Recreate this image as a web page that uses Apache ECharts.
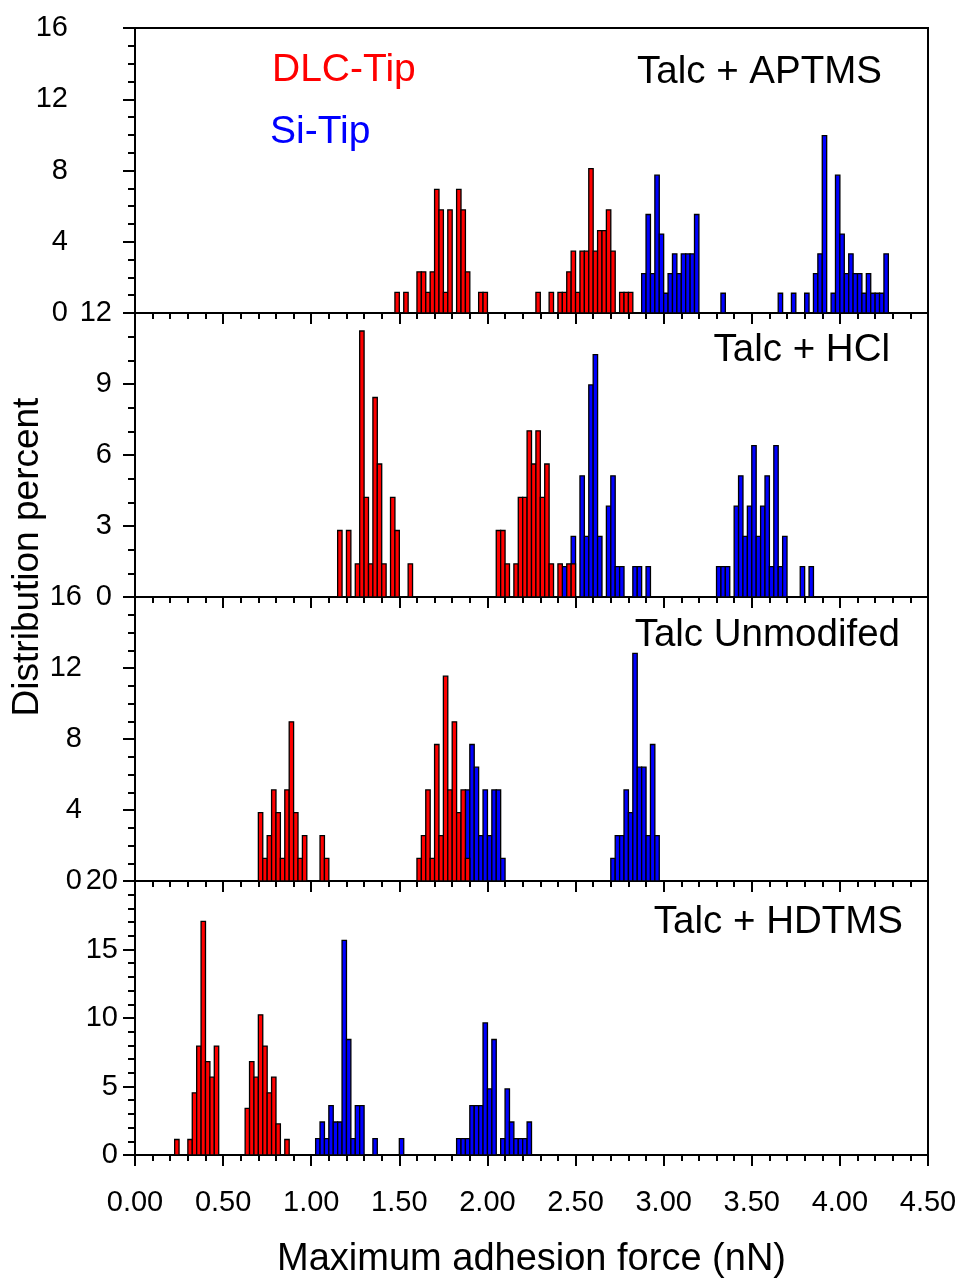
<!DOCTYPE html>
<html>
<head>
<meta charset="utf-8">
<script src="https://cdn.jsdelivr.net/npm/echarts@6/dist/echarts.min.js"></script>
<style>
html,body{margin:0;padding:0;background:#fff;}
#chart{width:963px;height:1280px;}
</style>
</head>
<body>
<div id="chart"></div>
<script>
// Histogram bin width (nN)
const BIN = 0.025;

// x-axis tick labels
const xTicks = ['0.00','0.50','1.00','1.50','2.00','2.50','3.00','3.50','4.00','4.50'];

// Panel titles
const panelNames = ['Talc + APTMS', 'Talc + HCl', 'Talc Unmodifed', 'Talc + HDTMS'];
const yMax = [16, 12, 16, 20];
const yStep = [4, 3, 4, 5];

// [bin start (nN), distribution percent]
const aptmsDLC = [[1.475,1.16],[1.525,1.16],[1.600,2.31],[1.625,2.31],[1.650,1.16],[1.675,2.31],[1.700,6.94],[1.725,5.79],[1.750,1.16],[1.775,5.79],[1.825,6.94],[1.850,5.79],[1.875,2.31],[1.950,1.16],[1.975,1.16],
  [2.275,1.16],[2.350,1.16],[2.400,1.16],[2.425,1.16],[2.450,2.31],[2.475,3.47],[2.500,1.16],[2.525,3.47],[2.550,3.47],[2.575,8.10],[2.600,3.47],[2.625,4.63],[2.650,4.63],[2.675,5.79],[2.700,3.47],[2.750,1.16],[2.775,1.16],[2.800,1.16]];
const aptmsSi = [[2.875,2.21],[2.900,5.53],[2.925,2.21],[2.950,7.74],[2.975,4.43],[3.000,1.11],[3.025,2.21],[3.050,3.32],[3.075,2.21],[3.100,3.32],[3.125,3.32],[3.150,3.32],[3.175,5.53],[3.325,1.11],
  [3.650,1.11],[3.725,1.11],[3.800,1.11],[3.850,2.21],[3.875,3.32],[3.900,9.96],[3.950,1.11],[3.975,7.74],[4.000,4.43],[4.025,2.21],[4.050,3.32],[4.075,2.21],[4.100,2.21],[4.125,1.11],[4.150,2.21],[4.175,1.11],[4.200,1.11],[4.225,1.11],[4.250,3.32]];

const hclDLC = [[1.150,2.81],[1.200,2.81],[1.250,1.40],[1.275,11.24],[1.300,4.21],[1.325,1.40],[1.350,8.43],[1.375,5.62],[1.400,1.40],[1.450,4.21],[1.475,2.81],[1.550,1.40],
  [2.050,2.81],[2.075,2.81],[2.100,1.40],[2.150,1.40],[2.175,4.21],[2.200,4.21],[2.225,7.02],[2.250,5.62],[2.275,7.02],[2.300,4.21],[2.325,5.62],[2.350,1.40],[2.400,1.40],[2.450,1.40],[2.475,1.40]];
const hclSi = [[2.425,1.28],[2.475,2.56],[2.525,5.12],[2.550,2.56],[2.575,8.96],[2.600,10.24],[2.625,2.56],[2.675,3.84],[2.700,5.12],[2.725,1.28],[2.750,1.28],[2.825,1.28],[2.850,1.28],[2.900,1.28],
  [3.300,1.28],[3.325,1.28],[3.350,1.28],[3.400,3.84],[3.425,5.12],[3.450,2.56],[3.475,3.84],[3.500,6.40],[3.525,2.56],[3.550,3.84],[3.575,5.12],[3.600,1.28],[3.625,6.40],[3.650,1.28],[3.675,2.56],[3.775,1.28],[3.825,1.28]];

const unmodDLC = [[0.700,3.85],[0.725,1.28],[0.750,2.56],[0.775,5.13],[0.800,3.85],[0.825,1.28],[0.850,5.13],[0.875,8.97],[0.900,3.85],[0.925,1.28],[0.950,2.56],[1.050,2.56],[1.075,1.28],
  [1.600,1.28],[1.625,2.56],[1.650,5.13],[1.675,1.28],[1.700,7.69],[1.725,2.56],[1.750,11.54],[1.775,5.13],[1.800,8.97],[1.825,3.85],[1.850,5.13],[1.875,1.28]];
const unmodSi = [[1.875,5.13],[1.900,7.69],[1.925,6.41],[1.950,2.56],[1.975,5.13],[2.000,2.56],[2.025,5.13],[2.050,5.13],[2.075,1.28],
  [2.700,1.28],[2.725,2.56],[2.750,2.56],[2.775,5.13],[2.800,3.85],[2.825,12.82],[2.850,6.41],[2.875,6.41],[2.900,2.56],[2.925,7.69],[2.950,2.56]];

const hdtmsDLC = [[0.225,1.13],[0.300,1.13],[0.325,4.54],[0.350,7.95],[0.375,17.05],[0.400,6.82],[0.425,5.68],[0.450,7.95],
  [0.625,3.41],[0.650,6.82],[0.675,5.68],[0.700,10.23],[0.725,7.95],[0.750,4.54],[0.775,5.68],[0.800,2.27],[0.850,1.13]];
const hdtmsSi = [[1.025,1.20],[1.050,2.41],[1.075,1.20],[1.100,3.61],[1.125,2.41],[1.150,2.41],[1.175,15.66],[1.200,8.43],[1.225,1.20],[1.250,3.61],[1.275,3.61],[1.350,1.20],[1.500,1.20],
  [1.825,1.20],[1.850,1.20],[1.875,1.20],[1.900,3.61],[1.925,3.61],[1.950,3.61],[1.975,9.64],[2.000,4.82],[2.025,8.43],[2.075,1.20],[2.100,4.82],[2.125,2.41],[2.150,1.20],[2.175,1.20],[2.200,1.20],[2.225,2.41]];

const dlcSets = [aptmsDLC, hclDLC, unmodDLC, hdtmsDLC];
const siSets = [aptmsSi, hclSi, unmodSi, hdtmsSi];

const FONT = '"Liberation Sans", Arial, Helvetica, sans-serif';
const chart = echarts.init(document.getElementById('chart'), null, {renderer: 'canvas'});

const gridTops = [28, 313, 597, 881];
const gridH = [285, 284, 284, 284];
const labelMargins = [67, 23, 53, 17];

function makeRender(color) {
  return function (params, api) {
    const x0 = api.value(0), v = api.value(1);
    const p0 = api.coord([x0, 0]);
    const p1 = api.coord([x0 + BIN, v]);
    return {
      type: 'rect',
      shape: {x: p0[0], y: p1[1], width: p1[0] - p0[0], height: p0[1] - p1[1]},
      style: {fill: color, stroke: '#000', lineWidth: 1.3}
    };
  };
}

const grids = [], xAxes = [], yAxes = [], series = [];
for (let i = 0; i < 4; i++) {
  grids.push({left: 135, right: 35, top: gridTops[i], height: gridH[i], show: true, borderColor: '#000', borderWidth: 2, backgroundColor: 'transparent'});
  xAxes.push({
    type: 'value', gridIndex: i, min: 0, max: 4.5, interval: 0.5,
    axisLine: {show: true, onZero: false, lineStyle: {color: '#000', width: 2}},
    axisTick: {show: true, inside: false, length: 11, lineStyle: {color: '#000', width: 2}},
    minorTick: {show: true, splitNumber: 5, length: 6, lineStyle: {color: '#000', width: 2}},
    splitLine: {show: false},
    axisLabel: {show: i === 3, margin: 33, color: '#000', fontSize: 29, fontFamily: FONT,
      formatter: function (v) { return xTicks[Math.round(v / 0.5)]; }},
    name: i === 3 ? 'Maximum adhesion force (nN)' : '',
    nameLocation: 'middle', nameGap: 86,
    nameTextStyle: {color: '#000', fontSize: 38, fontFamily: FONT}
  });
  yAxes.push({
    type: 'value', gridIndex: i, min: 0, max: yMax[i], interval: yStep[i],
    axisLine: {show: true, lineStyle: {color: '#000', width: 2}},
    axisTick: {show: true, inside: false, length: 12, lineStyle: {color: '#000', width: 2}},
    minorTick: {show: true, splitNumber: yStep[i], length: 7, lineStyle: {color: '#000', width: 2}},
    splitLine: {show: false},
    axisLabel: {show: true, margin: labelMargins[i], color: '#000', fontSize: 29, fontFamily: FONT}
  });
  series.push({type: 'custom', xAxisIndex: i, yAxisIndex: i, renderItem: makeRender('#0000FF'), data: siSets[i], encode: {x: 0, y: 1}, z: 2});
  series.push({type: 'custom', xAxisIndex: i, yAxisIndex: i, renderItem: makeRender('#FF0000'), data: dlcSets[i], encode: {x: 0, y: 1}, z: 3});
}

const rightEdges = [882, 890, 900, 903];
const titleY = [72, 350, 635, 922];
const graphics = [];
for (let i = 0; i < 4; i++) {
  graphics.push({type: 'text', x: rightEdges[i], y: titleY[i],
    style: {text: panelNames[i], fill: '#000', font: '38.5px ' + FONT, textAlign: 'right', textVerticalAlign: 'middle'}});
}
graphics.push({type: 'text', x: 272, y: 70, style: {text: 'DLC-Tip', fill: '#FF0000', font: '39px ' + FONT, textAlign: 'left', textVerticalAlign: 'middle'}});
graphics.push({type: 'text', x: 270, y: 132, style: {text: 'Si-Tip', fill: '#0000FF', font: '39px ' + FONT, textAlign: 'left', textVerticalAlign: 'middle'}});
graphics.push({type: 'text', x: 28, y: 557, rotation: Math.PI / 2,
  style: {text: 'Distribution percent', fill: '#000', font: '37px ' + FONT, textAlign: 'center', textVerticalAlign: 'middle'}});

chart.setOption({
  animation: false,
  backgroundColor: '#fff',
  grid: grids, xAxis: xAxes, yAxis: yAxes, series: series, graphic: graphics
});
</script>
</body>
</html>
